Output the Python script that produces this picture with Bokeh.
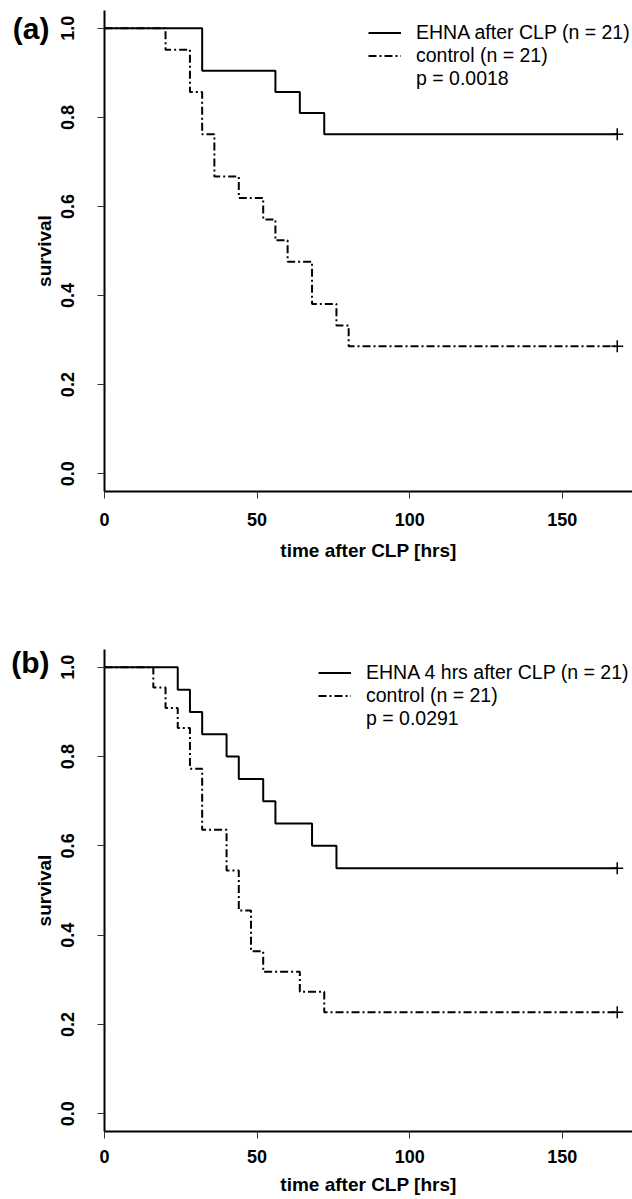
from bokeh.plotting import figure
from bokeh.layouts import column
from bokeh.models import (Range1d, Legend, LegendItem, FixedTicker, LinearAxis,
                          CustomJSTickFormatter)
from bokeh.embed import file_html
from bokeh.resources import INLINE

# ---------------- data ----------------
# panel (a): EHNA after CLP vs control (Kaplan-Meier steps)
a_ehna_t = [0, 32, 56, 64, 72, 168]
a_ehna_s = [1.0, 0.905, 0.857, 0.810, 0.762, 0.762]
a_ctrl_t = [0, 20, 28, 32, 36, 44, 52, 56, 60, 68, 76, 80, 168]
a_ctrl_s = [1.0, 0.952, 0.857, 0.762, 0.667, 0.619, 0.571, 0.524, 0.476, 0.381, 0.333, 0.286, 0.286]

# panel (b): EHNA 4 hrs after CLP vs control
b_ehna_t = [0, 24, 28, 32, 40, 44, 52, 56, 68, 76, 168]
b_ehna_s = [1.0, 0.95, 0.90, 0.85, 0.80, 0.75, 0.70, 0.65, 0.60, 0.55, 0.55]
b_ctrl_t = [0, 16, 20, 24, 28, 32, 40, 44, 48, 52, 64, 72, 168]
b_ctrl_s = [1.0, 0.955, 0.909, 0.864, 0.773, 0.636, 0.545, 0.455, 0.364, 0.318, 0.273, 0.227, 0.227]

x_ticks = [0, 50, 100, 150]
y_ticks = [0.0, 0.2, 0.4, 0.6, 0.8, 1.0]
y_tick_labels = ["0.0", "0.2", "0.4", "0.6", "0.8", "1.0"]

a_labels = ["EHNA after CLP (n = 21)", "control (n = 21)", "p = 0.0018"]
b_labels = ["EHNA 4 hrs after CLP (n = 21)", "control (n = 21)", "p = 0.0291"]

FONT = "Liberation Sans"
DASH = "8 3 2 3"


def make_panel(tag, t1, s1, t2, s2, labels, frame_h, top, bottom, leg_xy,
               xtick_standoff, xlab_standoff, tag_y):
    p = figure(frame_width=528, frame_height=frame_h,
               min_border_left=104, min_border_right=0,
               min_border_top=top, min_border_bottom=bottom,
               x_range=Range1d(0, 173), y_range=Range1d(-0.04, 1.04),
               output_backend="svg", toolbar_location=None, tools="")
    p.outline_line_color = None
    p.xgrid.visible = False
    p.ygrid.visible = False
    p.background_fill_color = "white"
    p.border_fill_color = "white"

    r1 = p.step(t1, s1, mode="after", line_color="black", line_width=2)
    r2 = p.step(t2, s2, mode="after", line_color="black", line_width=2,
                line_dash=DASH)
    p.scatter([t1[-1]], [s1[-1]], marker="cross", size=12,
              line_color="black", line_width=1.5)
    p.scatter([t2[-1]], [s2[-1]], marker="cross", size=12,
              line_color="black", line_width=1.5)
    dummy = p.line([], [], line_alpha=0)

    # axes
    p.xaxis.ticker = FixedTicker(ticks=x_ticks)
    p.yaxis.ticker = FixedTicker(ticks=y_ticks)
    p.yaxis.major_label_overrides = {v: l for v, l in zip(y_ticks, y_tick_labels)}
    for ax in (p.xaxis[0], p.yaxis[0]):
        ax.axis_line_width = 2
        ax.axis_line_color = "black"
        ax.major_tick_line_color = "#333333"
        ax.major_tick_line_width = 1
        ax.major_tick_out = 7
        ax.major_tick_in = 0
        ax.minor_tick_out = 0
        ax.minor_tick_in = 0
        ax.major_label_text_font = FONT
        ax.major_label_text_font_style = "bold"
        ax.major_label_text_font_size = "18px"
        ax.major_label_text_color = "black"
        ax.axis_label_text_font = FONT
        ax.axis_label_text_font_style = "bold"
        ax.axis_label_text_font_size = "19px"
        ax.axis_label_text_color = "black"
    p.yaxis.major_label_orientation = "vertical"
    p.yaxis.major_label_standoff = 23
    p.yaxis.axis_label = "survival"
    p.yaxis.axis_label_standoff = 4
    p.xaxis.major_label_standoff = xtick_standoff
    p.xaxis.axis_label = "time after CLP [hrs]"
    p.xaxis.axis_label_standoff = xlab_standoff

    # panel tag "(a)" / "(b)" as an outer left axis with a single labelled tick
    tag_axis = LinearAxis(ticker=FixedTicker(ticks=[tag_y]),
                          formatter=CustomJSTickFormatter(code='return "%s";' % tag),
                          axis_line_color=None, major_tick_line_color=None,
                          minor_tick_line_color=None,
                          major_tick_out=0, major_tick_in=0,
                          minor_tick_out=0, minor_tick_in=0,
                          major_label_standoff=-19,
                          major_label_orientation="horizontal",
                          major_label_text_font=FONT,
                          major_label_text_font_style="bold",
                          major_label_text_font_size="30px",
                          major_label_text_color="black")
    p.add_layout(tag_axis, "left")

    leg = Legend(items=[LegendItem(label=labels[0], renderers=[r1]),
                        LegendItem(label=labels[1], renderers=[r2]),
                        LegendItem(label=labels[2], renderers=[dummy])],
                 location=leg_xy, orientation="vertical",
                 border_line_color=None, background_fill_alpha=0,
                 padding=0, margin=0, spacing=0,
                 glyph_width=33, glyph_height=21, label_height=21,
                 label_standoff=15,
                 label_text_font=FONT, label_text_font_size="19.5px",
                 label_text_color="black")
    p.add_layout(leg)
    return p


pa = make_panel("(a)", a_ehna_t, a_ehna_s, a_ctrl_t, a_ctrl_s, a_labels,
                frame_h=481, top=10, bottom=76, leg_xy=(264, 401),
                xtick_standoff=14, xlab_standoff=11, tag_y=1.0)
pb = make_panel("(b)", b_ehna_t, b_ehna_s, b_ctrl_t, b_ctrl_s, b_labels,
                frame_h=482, top=82, bottom=68, leg_xy=(214, 401),
                xtick_standoff=11, xlab_standoff=8, tag_y=1.01)

layout = column(pa, pb, spacing=0)
open("out.html", "w").write(file_html(layout, INLINE))
